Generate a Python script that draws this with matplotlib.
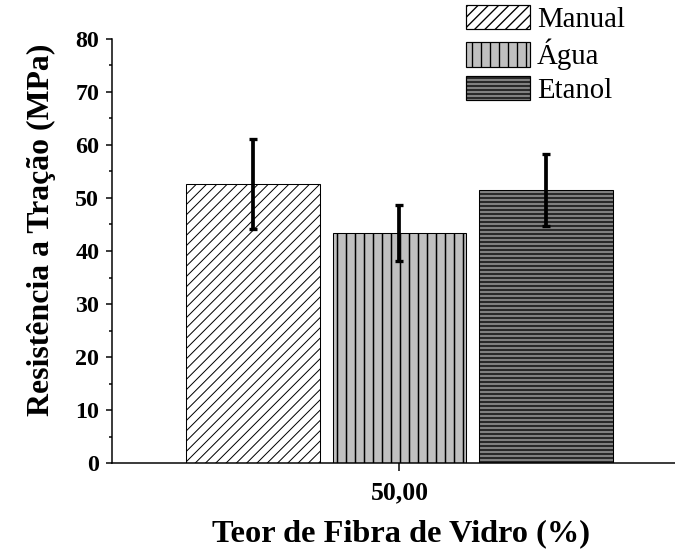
import matplotlib
matplotlib.use("Agg")
import matplotlib.pyplot as plt
import numpy as np

series = ["Manual", "Água", "Etanol"]
values = [52.7, 43.4, 51.5]
errors = [8.5, 5.2, 6.8]
category = "50,00"
facecolors = ["white", "#c0c0c0", "#808080"]
hatches = ["///////", "||||", "---------"]
hatch_lw = [0.33, 0.5, 0.45]

DPI = 216
W, H = 675, 553
plt.rcParams["font.family"] = ["Liberation Serif", "DejaVu Serif"]

fig = plt.figure(figsize=(W / DPI, H / DPI), dpi=DPI)
ax = fig.add_axes([112 / W, (H - 463) / H, (W - 112) / W, 424 / H])

pitch = 147.0
width = 134 / pitch
offsets = np.arange(len(series)) - (len(series) - 1) / 2
for i, name in enumerate(series):
    plt.rcParams["hatch.linewidth"] = hatch_lw[i]
    ax.bar(offsets[i], values[i], width=width, color=facecolors[i],
           edgecolor="black", linewidth=0.35, hatch=hatches[i], label=name, zorder=2)
    ax.errorbar(offsets[i], values[i], yerr=errors[i], fmt="none", ecolor="black",
                elinewidth=1.25, capsize=1.4, capthick=1.1, zorder=3)

ax.set_xlim(-(400 - 112) / pitch, (W + 1 - 400) / pitch)
ax.set_ylim(0, 80)
ax.set_xticks([0])
ax.set_xticklabels([category], fontweight="bold", fontsize=8.6)
ax.set_yticks(np.arange(0, 81, 10))
ax.set_yticks(np.arange(5, 80, 10), minor=True)
for lab in ax.get_yticklabels():
    lab.set_fontweight("bold")
    lab.set_fontsize(8)
ax.tick_params(axis="y", which="major", direction="out", length=2.0, width=0.5, pad=2.2)
ax.tick_params(axis="y", which="minor", direction="out", length=1.0, width=0.5)
ax.tick_params(axis="x", which="major", direction="out", length=2.5, width=0.5, pad=3.5)
for s in ["top", "right"]:
    ax.spines[s].set_visible(False)
for s in ["left", "bottom"]:
    ax.spines[s].set_linewidth(0.5)

fig.text(49 / W, 1 - 230 / H, "Resistência a Tração (MPa)", fontweight="bold",
         fontsize=10.6, rotation=90, rotation_mode="anchor", ha="center", va="baseline")
fig.text(401 / W, 1 - 541 / H, "Teor de Fibra de Vidro (%)", fontweight="bold",
         fontsize=10.8, ha="center", va="baseline")

leg = fig.legend(loc="upper left", bbox_to_anchor=(466 / W, 1 - 5 / H), frameon=False,
                 fontsize=9.6, handlelength=2.22, handleheight=0.92, handletextpad=0.25,
                 labelspacing=0.2, borderpad=0, borderaxespad=0)
for p in leg.get_patches():
    p.set_linewidth(0.4)

fig.savefig("out.png", dpi=DPI)
